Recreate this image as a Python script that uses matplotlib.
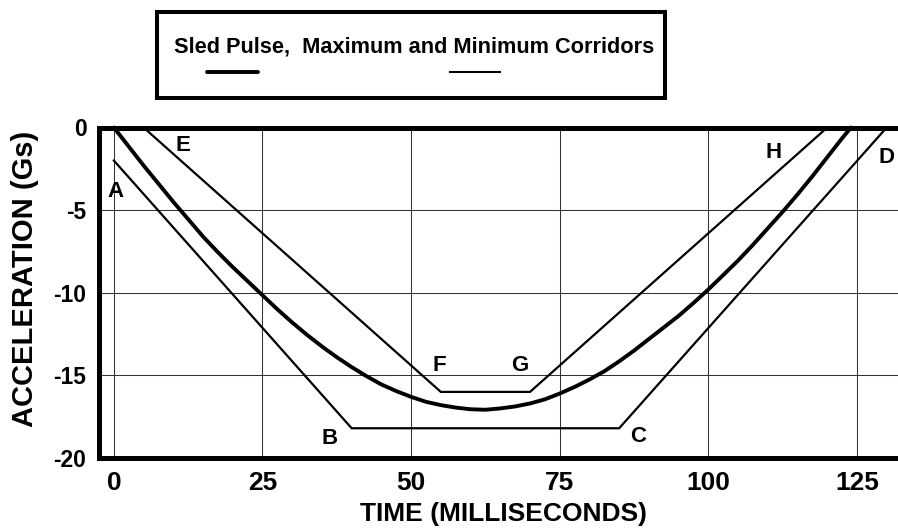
import matplotlib
matplotlib.use("Agg")
import matplotlib.pyplot as plt
from matplotlib.patches import Rectangle
from matplotlib.lines import Line2D
from matplotlib import font_manager
from matplotlib.font_manager import FontProperties

# Sled pulse (acceleration vs time), sampled every 2.5 ms
pulse_time = [0, 2.5, 5, 7.5, 10, 12.5, 15, 17.5, 20, 22.5, 25, 27.5, 30,
              32.5, 35, 37.5, 40, 42.5, 45, 47.5, 50, 52.5, 55, 57.5, 60,
              62.5, 65, 67.5, 70, 72.5, 75, 77.5, 80, 82.5, 85, 87.5, 90,
              92.5, 95, 97.5, 100, 102.5, 105, 107.5, 110, 112.5, 115,
              117.5, 120, 122.5, 124]
pulse_accel = [0, -1.15, -2.3, -3.4, -4.5, -5.55, -6.6, -7.55, -8.45, -9.3,
               -10.15, -11.0, -11.8, -12.55, -13.25, -13.9, -14.5, -15.05,
               -15.55, -15.95, -16.3, -16.6, -16.8, -16.95, -17.05, -17.08,
               -17.0, -16.88, -16.7, -16.45, -16.1, -15.7, -15.25, -14.75,
               -14.15, -13.5, -12.8, -12.1, -11.4, -10.62, -9.8, -8.93,
               -8.05, -7.1, -6.1, -5.1, -4.05, -2.95, -1.8, -0.65, 0]

# Maximum corridor A-B-C-D
max_labels = ["A", "B", "C", "D"]
max_time = [0, 40, 85, 130]
max_accel = [-2, -18.2, -18.2, 0]

# Minimum corridor E-F-G-H
min_labels = ["E", "F", "G", "H"]
min_time = [5, 55, 70, 120]
min_accel = [0, -16, -16, 0]

x_ticks = [0, 25, 50, 75, 100, 125]
y_ticks = [0, -5, -10, -15, -20]

W, H = 898, 532
BASE = "Liberation Sans"

fig = plt.figure(figsize=(W / 100, H / 100), dpi=100)
fig.patch.set_facecolor("white")

# axes placement in pixels
left_px, top_px, bottom_px = 99, 127.5, 458
ax = fig.add_axes([left_px / W, 1 - bottom_px / H,
                   1 - left_px / W, (bottom_px - top_px) / H])
ax.set_xlim(-2.5, 131.9)
ax.set_ylim(-20, 0)

ax.set_xticks(x_ticks)
ax.set_yticks(y_ticks)
ax.set_xticklabels([str(v) for v in x_ticks], fontfamily=BASE,
                   fontweight="bold", fontsize=19)
ax.set_yticklabels([str(v) for v in y_ticks], fontfamily=BASE,
                   fontweight="bold", fontsize=16.5)
ax.tick_params(axis="both", length=0)
ax.tick_params(axis="x", pad=9)
ax.tick_params(axis="y", pad=9)

ax.grid(True, color="#333333", linewidth=0.75)
ax.set_axisbelow(True)

for side in ("left", "top", "bottom"):
    ax.spines[side].set_linewidth(3.6)
    ax.spines[side].set_color("black")
ax.spines["right"].set_visible(False)

# corridors and pulse
ax.plot(max_time, max_accel, color="black", linewidth=1.6,
        solid_joinstyle="miter", clip_on=False)
ax.plot(min_time, min_accel, color="black", linewidth=1.6,
        solid_joinstyle="miter", clip_on=False)
ax.plot(pulse_time, pulse_accel, color="black", linewidth=2.8,
        solid_capstyle="round", solid_joinstyle="round", clip_on=False)

# corner letters
letter_pos = {
    "A": (0.2, -3.9), "B": (36.2, -18.85), "C": (88.2, -18.7), "D": (130.0, -1.8),
    "E": (11.6, -1.1), "F": (54.7, -14.4), "G": (68.3, -14.4), "H": (110.9, -1.5),
}
for name in max_labels + min_labels:
    tx, ty = letter_pos[name]
    ax.text(tx, ty, name, ha="center", va="center", fontfamily=BASE,
            fontweight="bold", fontsize=16)

fig.text(504 / W, 1 - 514 / H, "TIME (MILLISECONDS)", ha="center", va="center",
         fontfamily=BASE, fontweight="bold", fontsize=19)
fig.text(25 / W, 1 - 279 / H, "ACCELERATION (Gs)", ha="center", va="center",
         rotation=90, fontfamily=BASE, fontweight="bold", fontsize=21)

# legend box at the top
box_l, box_r, box_t, box_b = 157, 665, 12, 98
fig.patches.append(Rectangle((box_l / W, 1 - box_b / H), (box_r - box_l) / W,
                             (box_b - box_t) / H, transform=fig.transFigure,
                             facecolor="white", edgecolor="black", linewidth=2.9))

try:
    font_manager.findfont(FontProperties(family="Liberation Sans Narrow", weight="bold"),
                          fallback_to_default=False)
    title_family, title_size = "Liberation Sans Narrow", 19
except ValueError:
    title_family, title_size = BASE, 15.7

fig.text(414 / W, 1 - 47 / H, "Sled Pulse,  Maximum and Minimum Corridors",
         ha="center", va="center", fontfamily=title_family, fontweight="bold",
         fontsize=title_size)
fig.lines.append(Line2D([207 / W, 258 / W], [1 - 72 / H, 1 - 72 / H],
                        transform=fig.transFigure, color="black", linewidth=2.8,
                        solid_capstyle="round"))
fig.lines.append(Line2D([450 / W, 500 / W], [1 - 72 / H, 1 - 72 / H],
                        transform=fig.transFigure, color="black", linewidth=1.5))

fig.savefig("out.png", dpi=100, facecolor="white")
